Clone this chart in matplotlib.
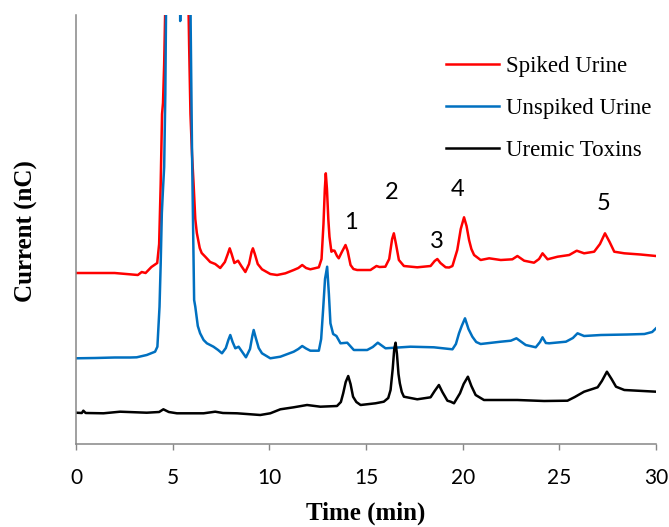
import matplotlib.pyplot as plt

# Data (time in min, current in arbitrary nC units; big peak clipped above the axis top)
t_spiked = [0, 1.0, 2.0, 2.6, 3.2, 3.4, 3.6, 3.9, 4.2, 4.3, 4.38, 4.45, 4.5, 4.56, 4.62,
            4.7, 5.0, 5.5, 5.75, 5.85, 5.92, 6.0, 6.08, 6.17, 6.25, 6.4, 6.5, 6.7, 6.94,
            7.2, 7.46, 7.7, 7.85, 7.95, 8.05, 8.19, 8.38, 8.55, 8.76, 8.95, 9.08, 9.15,
            9.25, 9.4, 9.62, 10.05, 10.4, 10.83, 11.26, 11.5, 11.7, 11.9, 12.12, 12.56,
            12.7, 12.8, 12.87, 12.92, 12.98, 13.05, 13.11, 13.21, 13.3, 13.37, 13.5,
            13.59, 13.75, 13.94, 14.05, 14.2, 14.35, 14.54, 15.23, 15.54, 15.7, 16.0,
            16.2, 16.35, 16.44, 16.55, 16.7, 16.96, 17.65, 18.34, 18.55, 18.69, 18.85,
            19.12, 19.3, 19.47, 19.72, 19.9, 20.07, 20.2, 20.33, 20.45, 20.59, 20.93,
            21.37, 21.97, 22.57, 22.83, 23.18, 23.69, 23.95, 24.13, 24.39, 24.91, 25.51,
            25.9, 26.28, 26.8, 27.1, 27.36, 27.6, 27.84, 28.36, 29.2, 30.0]
i_spiked = [171, 171, 171, 170, 169, 172, 171, 177, 181, 200, 260, 330, 341, 380, 440,
            520, 600, 600, 520, 400, 330, 290, 261, 225, 211, 196, 191, 187, 182,
            180, 176, 182, 190, 195.7, 190, 181, 183.3, 178, 172, 180, 192, 195.7,
            190, 180, 174.7, 170, 169, 170.7, 174, 176, 179, 176, 174.7, 176.7,
            185, 220, 255, 270.7, 255, 225, 207.3, 192.3, 193.5, 193.3, 188,
            185.7, 192, 199, 193, 179, 175, 174, 174, 178, 177, 177.3,
            185, 205, 210.7, 200, 184, 178, 176.7, 178, 183, 185, 181,
            176.7, 176.5, 178, 194, 215, 226.7, 218, 204, 195, 189, 184,
            185.7, 184, 184.7, 188, 183.3, 181.3, 185, 190.7, 184.7, 187.3, 189,
            193.3, 190.7, 192.3, 200, 210.7, 202, 192.3, 190.7, 189.5, 188]

t_unspiked = [0, 1.0, 2.0, 2.8, 3.14, 3.66, 4.09, 4.21, 4.32, 4.38, 4.44, 4.5, 4.56, 4.62,
              4.66, 4.75, 5.3, 5.39, 5.48, 5.87, 5.93, 6.0, 6.11, 6.17, 6.3, 6.42, 6.6,
              6.77, 7.11, 7.35, 7.55, 7.75, 7.88, 7.98, 8.1, 8.24, 8.41, 8.6, 8.79, 9.0,
              9.12, 9.19, 9.3, 9.45, 9.62, 10.05, 10.57, 11.26, 11.5, 11.7, 11.9, 12.12,
              12.56, 12.68, 12.78, 12.88, 12.99, 13.08, 13.16, 13.3, 13.47, 13.68, 14.03,
              14.37, 15.06, 15.35, 15.61, 16.01, 17.3, 18.51, 19.47, 19.65, 19.81, 19.95,
              20.12, 20.3, 20.5, 20.7, 20.93, 21.97, 22.49, 22.78, 23.26, 23.78, 24.0,
              24.13, 24.3, 24.47, 25.34, 25.7, 25.94, 26.28, 27.15, 28.5, 29.4, 29.8, 30.0]
i_unspiked = [85.7, 86, 86.5, 86.5, 86.7, 89, 92.3, 97.3, 137.3, 180, 231, 255, 277, 350,
              440, 600, 600, 423, 600, 600, 420, 294, 144, 137.3, 118, 110.7, 104,
              100.7, 97.3, 94, 90.7, 96, 104, 109, 102, 95.7, 97.3, 92, 86.7, 95,
              108, 114, 106, 96, 90.7, 85.7, 87.3, 92.3, 95, 98, 95.5, 93.3,
              93.3, 105, 134, 165, 177.3, 150, 120.7, 110, 108, 100.7, 101.3,
              94, 94, 97, 101.3, 95.7, 97.3, 96.7, 94.7, 100, 110.7, 118,
              125.7, 115, 107.3, 102, 100, 102.3, 103.3, 105.7, 99, 96.7, 102,
              106.7, 101, 100.7, 102.3, 106, 110.7, 108, 109, 109.5, 110, 112, 115.7]

t_toxins = [0, 0.3, 0.38, 0.5, 1.42, 2.28, 3.66, 4.3, 4.52, 4.8, 5.22, 6.6, 7.2, 7.6, 8.33,
            9.53, 10.05, 10.57, 11.26, 11.95, 12.64, 13.5, 13.7, 13.82, 13.95, 14.08, 14.2,
            14.33, 14.5, 14.72, 15.49, 15.92, 16.15, 16.27, 16.38, 16.46, 16.53, 16.6,
            16.68, 16.75, 16.85, 16.96, 17.65, 18.34, 18.55, 18.77, 18.95, 19.21, 19.38,
            19.55, 19.86, 20.05, 20.27, 20.45, 20.67, 21.1, 22.83, 24.21, 25.42, 25.8,
            26.28, 26.98, 27.2, 27.46, 27.7, 27.93, 28.36, 30.0]
i_toxins = [31.3, 31, 33.3, 31, 30.7, 32.3, 31.3, 32, 34.7, 32, 30.7, 30.7, 32.3, 31, 30.7,
            29, 30.7, 34.7, 36.7, 39, 37.3, 38, 42, 50.7, 62, 68, 60,
            47.3, 42, 39, 40.7, 42.3, 46, 54, 75, 95, 101.3, 90,
            70, 60.7, 52, 47.3, 44.7, 46.7, 53, 59, 52, 43.3, 42.3,
            40.7, 50.7, 60, 67.3, 58, 49, 44, 44, 43, 43.3, 47,
            52.3, 56.7, 63, 72.3, 65, 57.3, 54, 52.3]

peak_names = ["1", "2", "3", "4", "5"]
peak_label_t = [14.21, 16.33, 18.66, 19.73, 27.28]
peak_label_i = [221.7, 252, 202.3, 255, 240.7]

fig = plt.figure(figsize=(6.69, 5.27), dpi=100)
ax = fig.add_axes([0.1136, 0.1575, 0.867, 0.814])

ax.plot(t_spiked, i_spiked, color="#FF0000", lw=1.8, label="Spiked Urine")
ax.plot(t_unspiked, i_unspiked, color="#0070C0", lw=1.8, label="Unspiked Urine")
ax.plot(t_toxins, i_toxins, color="black", lw=1.8, label="Uremic Toxins")

for name, tx, iy in zip(peak_names, peak_label_t, peak_label_i):
    ax.text(tx, iy, name, ha="center", va="center", fontsize=17, family="Lato")

ax.set_xlim(0, 30)
ax.set_ylim(0, 429)
ax.set_xticks(range(0, 31, 5))
ax.set_yticks([])
for lab in ax.get_xticklabels():
    lab.set_family("Lato")
    lab.set_fontsize(15)
ax.tick_params(axis="x", direction="out", length=4, width=1, color="#868686", pad=13)

for s in ["top", "right"]:
    ax.spines[s].set_visible(False)
for s in ["left", "bottom"]:
    ax.spines[s].set_color("#868686")
    ax.spines[s].set_linewidth(1.1)

ax.set_xlabel("Time (min)", fontsize=18, fontweight="bold", family="Liberation Serif")
ax.set_ylabel("Current (nC)", fontsize=18, fontweight="bold", family="Liberation Serif")
ax.xaxis.set_label_coords(0.5, -0.134)
ax.yaxis.set_label_coords(-0.065, 0.497)

ax.legend(loc="upper left", bbox_to_anchor=(0.667, 0.893), bbox_transform=fig.transFigure,
          frameon=False, prop={"family": "Liberation Serif", "size": 16.5},
          borderpad=0, borderaxespad=0, handlelength=2.3, handletextpad=0.3,
          labelspacing=0.9)

fig.savefig("out.png", dpi=100)
